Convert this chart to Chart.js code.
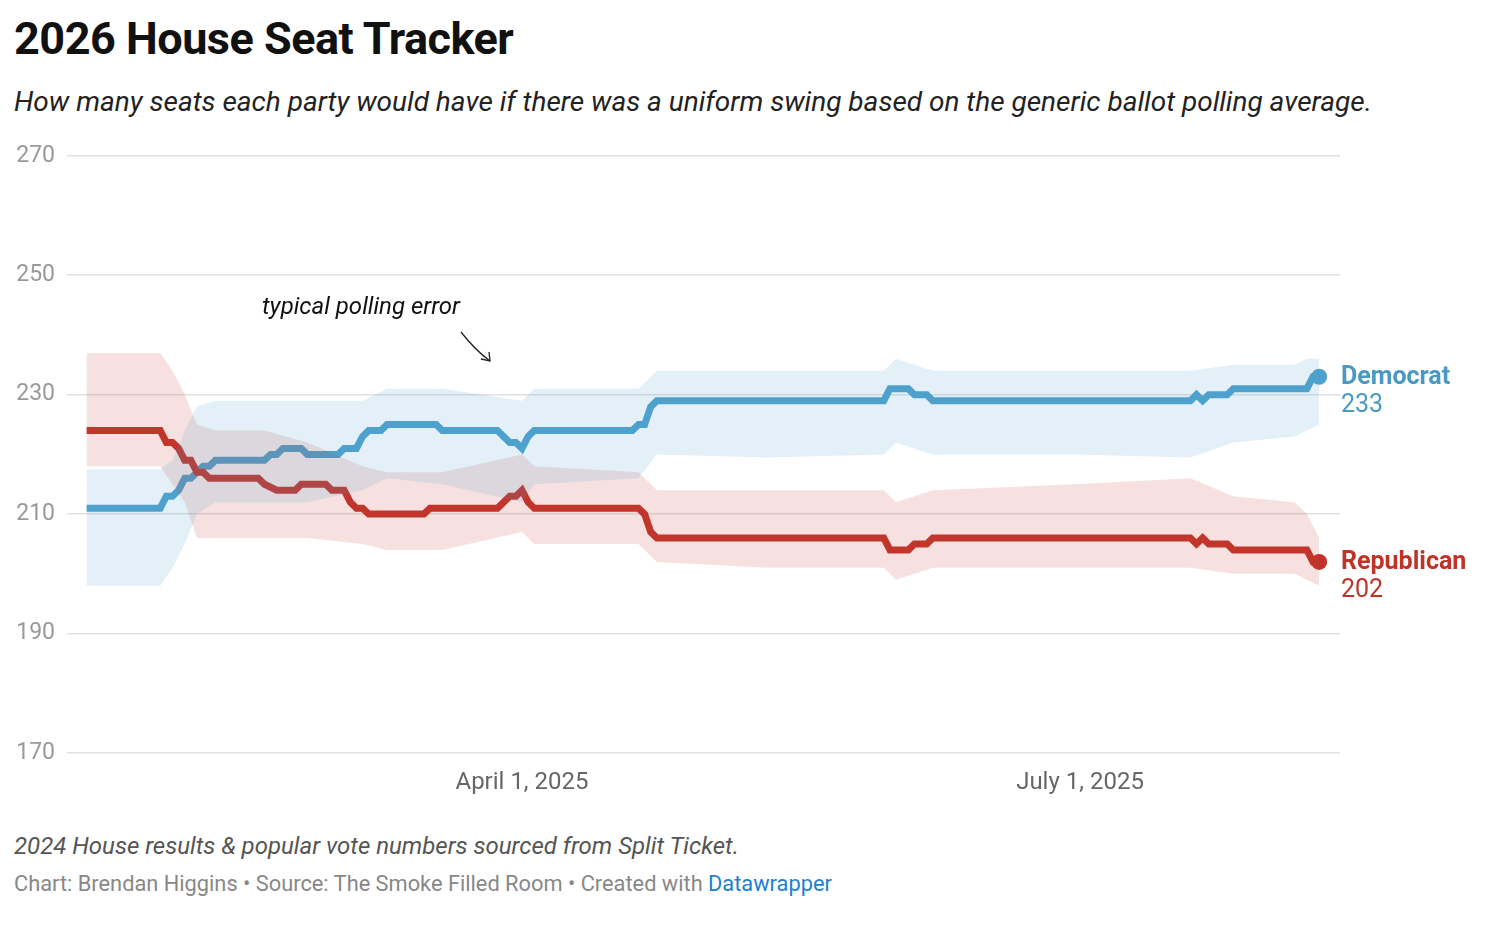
<!DOCTYPE html>
<html><head><meta charset="utf-8">
<script src="https://cdn.jsdelivr.net/npm/chart.js@4"></script>
<style>
body{margin:0;background:#fff;font-family:Roboto,"Noto Sans",sans-serif;width:1490px;height:926px;position:relative;overflow:hidden}
#title{position:absolute;left:14px;top:12px;font-size:45px;font-weight:700;color:#111;letter-spacing:-0.5px}
#sub{position:absolute;left:14px;top:85px;font-size:28px;font-style:italic;color:#222}
#wrap{position:absolute;left:0;top:130px;width:1490px;height:680px}
#note{position:absolute;left:14px;top:832px;font-size:24px;font-style:italic;color:#555}
#cred{position:absolute;left:14px;top:871px;font-size:21.8px;color:#888}
#cred span{color:#1d81d1}
</style></head><body>
<div id="title">2026 House Seat Tracker</div>
<div id="sub">How many seats each party would have if there was a uniform swing based on the generic ballot polling average.</div>
<div id="wrap"><canvas id="c"></canvas></div>
<div id="note">2024 House results &amp; popular vote numbers sourced from Split Ticket.</div>
<div id="cred">Chart: Brendan Higgins • Source: The Smoke Filled Room • Created with <span>Datawrapper</span></div>
<script>
// day numbers = days since Jan 1, 2025
const demDays=[19,31,32,33,34,35,36,37,38,39,40,48,49,50,51,54,55,60,61,63,64,65,67,68,76,77,86,88,89,90,91,92,108,109,110,111,112,149,150,153,154,156,157,199,200,201,202,205,206,218,219,220];
const demSeats=[211,211,213,213,214,216,216,217,218,218,219,219,220,220,221,221,220,220,221,221,223,224,224,225,225,224,224,222,222,221,223,224,224,225,225,228,229,229,231,231,230,230,229,229,230,229,230,230,231,231,233,233];
const repDays=[19,31,32,33,34,35,36,37,38,39,47,48,50,53,54,58,59,61,62,63,64,65,74,75,86,88,89,90,91,92,109,110,111,112,149,150,153,154,156,157,199,200,201,202,205,206,218,219,220];
const repSeats=[224,224,222,222,221,219,219,217,217,216,216,215,214,214,215,215,214,214,212,211,211,210,210,211,211,213,213,214,212,211,211,210,207,206,206,204,204,205,205,206,206,205,206,205,205,204,204,202,202];
const bandDays=[19,31,33,35,37,40,48,55,64,68,77,90,92,109,112,130,149,151,157,180,199,206,216,218,220];
const demHi=[217.5,217.5,219,224,228,229,229,229,229,231,231,229,231,231,234,234,234,236,234,234,234,235,235,236,236];
const demLo=[198,198,201,205,210,212,212,212,214,216,215,212,215,216,220,219.5,220,222,220,220,219.5,222,223,224,225];
const repHi=[237,237,234,230,225,224,224,222,218,217,217,220,218,217,214,214,214,212,214,215,216,213,212,210,206];
const repLo=[218,218,215,212,206,206,206,206,205,204,204,207,205,205,202,201,201,199,201,201,201,200,200,199,198];
const yTicks=[170,190,210,230,250,270];
const xTickDays=[90,181];
const xTickLabels=["April 1, 2025","July 1, 2025"];
const BLUE='#4ea1cc',RED='#bf3328';
const pts=(d,v)=>d.map((x,i)=>({x,y:v[i]}));
const band=(v,col,fill)=>({data:pts(bandDays,v),borderWidth:0,pointRadius:0,tension:0,backgroundColor:col,fill:fill});
const last=(d,v)=>[{x:d[d.length-1],y:v[v.length-1]}];
const plug={id:'ann',afterDatasetsDraw(ch){
 const c=ch.ctx,x=ch.scales.x,y=ch.scales.y;
 c.save();
 const lx=x.right+1;
 c.textBaseline='middle';c.textAlign='left';
 c.fillStyle='#4a98c4';c.font='bold 25px Roboto';c.fillText('Democrat',lx,y.getPixelForValue(233)+1);
 c.font='25px Roboto';c.fillText('233',lx,y.getPixelForValue(233)+29);
 c.fillStyle=RED;c.font='bold 25px Roboto';c.fillText('Republican',lx,y.getPixelForValue(202)+1);
 c.font='25px Roboto';c.fillText('202',lx,y.getPixelForValue(202)+29);
 c.fillStyle='#111';c.font='italic 24px Roboto';c.fillText('typical polling error',262,178);
 c.strokeStyle='#222';c.lineWidth=1.3;c.beginPath();c.moveTo(461,202);c.quadraticCurveTo(475,220,490,231);c.stroke();
 c.beginPath();c.moveTo(481,229);c.lineTo(490,231);c.lineTo(489,222);c.stroke();
 c.restore();}};
new Chart(document.getElementById('c'),{type:'line',
 data:{datasets:[
  band(demLo,'transparent',false),band(demHi,'rgba(78,161,204,0.16)','-1'),
  band(repLo,'transparent',false),band(repHi,'rgba(205,70,60,0.16)','-1'),
  {data:pts(repDays,repSeats),borderColor:RED,borderWidth:7,pointRadius:0,tension:0,fill:false},
  {data:pts(demDays,demSeats),borderColor:BLUE,borderWidth:7,pointRadius:0,tension:0,fill:false},
  {data:last(repDays,repSeats),pointRadius:8,pointBackgroundColor:RED,pointBorderWidth:0,showLine:false},
  {data:last(demDays,demSeats),pointRadius:8,pointBackgroundColor:BLUE,pointBorderWidth:0,showLine:false}
 ]},
 options:{responsive:true,maintainAspectRatio:false,animation:false,
  layout:{padding:{top:23,right:150,left:0,bottom:0}},
  plugins:{legend:{display:false},tooltip:{enabled:false}},
  scales:{
   x:{type:'linear',min:15.8,max:223.4,grid:{display:false},border:{display:false},
    afterBuildTicks:s=>{s.ticks=xTickDays.map(v=>({value:v}));},
    afterFit:s=>{s.height=57;},
    ticks:{padding:8,color:'#666',font:{size:24,family:'Roboto'},maxRotation:0,autoSkip:false,
     callback:v=>xTickLabels[xTickDays.indexOf(v)]}},
   y:{min:170,max:270,border:{display:false},grid:{color:'#e0e0e0',lineWidth:1.5,drawTicks:false},
    afterBuildTicks:s=>{s.ticks=yTicks.map(v=>({value:v}));},
    afterFit:s=>{s.width=67;},
    ticks:{padding:12,color:'#999',font:{size:23,family:'Roboto'},
     callback:v=>String(v)}}
  }},
 plugins:[plug]});
</script></body></html>
